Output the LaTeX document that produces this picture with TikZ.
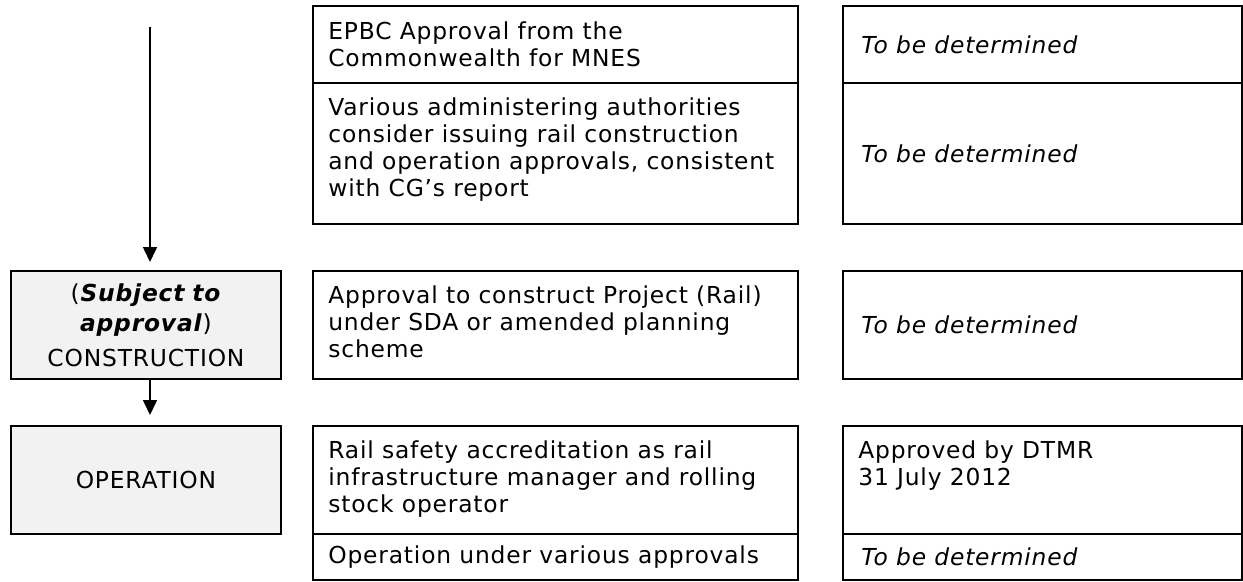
\documentclass[tikz,border=0pt]{standalone}
\usepackage{fontspec}
\setmainfont{DejaVu Sans}[LetterSpace=3.5]
\usetikzlibrary{arrows.meta,positioning}

\definecolor{stagegray}{HTML}{F2F2F2}
\newcommand\cellfont{\fontsize{13.3pt}{15.4pt}\selectfont}

\begin{document}
\begin{tikzpicture}[x=1cm,y=1cm,
    cell/.style={draw, line width=1.1pt, anchor=north west, inner sep=0pt},
    stage/.style={cell, fill=stagegray, minimum width=5.4cm, text width=5.2cm,
      align=center, font=\cellfont},
    txt/.style={inner sep=0pt, align=left, font=\cellfont},
    tbd/.style={txt, anchor=west, font=\cellfont\itshape},
    flow/.style={-{Triangle[width=0.28cm,length=0.3cm]}, line width=0.9pt}]

  \useasboundingbox (0,0) rectangle (24.86,-11.62);

  % Approval and status cells, one row per step
  \foreach \nm/\yv/\hv in {epbc/0.10/1.54, admin/1.64/2.82, sda/5.40/2.16,
      safety/8.50/2.16, various/10.66/0.92}{
    \node[cell, minimum width=9.70cm, minimum height=\hv cm] (\nm) at (6.24,-\yv) {};
    \node[cell, minimum width=7.98cm, minimum height=\hv cm] (\nm-st) at (16.84,-\yv) {};
  }

  \node[txt, anchor=west] (epbc-t) at ([xshift=0.32cm]epbc.west)
    {EPBC Approval from the\\Commonwealth for MNES};
  \node[txt, anchor=north west] (admin-t) at ([shift={(0.32,-0.30)}]admin.north west)
    {Various administering authorities\\consider issuing rail construction\\and operation approvals, consistent\\with CG’s report};
  \node[txt, anchor=north west] (sda-t) at ([shift={(0.32,-0.30)}]sda.north west)
    {Approval to construct Project (Rail)\\under SDA or amended planning\\scheme};
  \node[txt, anchor=north west] (safety-t) at ([shift={(0.32,-0.30)}]safety.north west)
    {Rail safety accreditation as rail\\infrastructure manager and rolling\\stock operator};
  \node[txt, anchor=west] (various-t) at ([xshift=0.32cm]various.west)
    {Operation under various approvals};

  \foreach \nm in {epbc, admin, sda, various}{
    \node[tbd] (\nm-tbd) at ([xshift=0.38cm]\nm-st.west) {To be determined};
  }
  \node[txt, anchor=north west] (safety-ok) at ([shift={(0.32,-0.30)}]safety-st.north west)
    {Approved by DTMR\\31 July 2012};

  % Stages on the left
  \node[stage, minimum height=2.16cm] (cons) at (0.20,-5.40)
    {(\textbf{\textit{Subject to}}\\[1.7pt]\textbf{\textit{approval}})\\[4.5pt]CONSTRUCTION};
  \node[stage, minimum height=2.16cm] (oper) at (0.20,-8.50) {OPERATION};

  \coordinate (start) at (3.00,-0.54);
  \draw[flow, shorten >=0.16cm] (start) -- (start |- cons.north);
  \draw[flow, shorten >=0.20cm] (cons.south -| start) -- (oper.north -| start);

\end{tikzpicture}
\end{document}
